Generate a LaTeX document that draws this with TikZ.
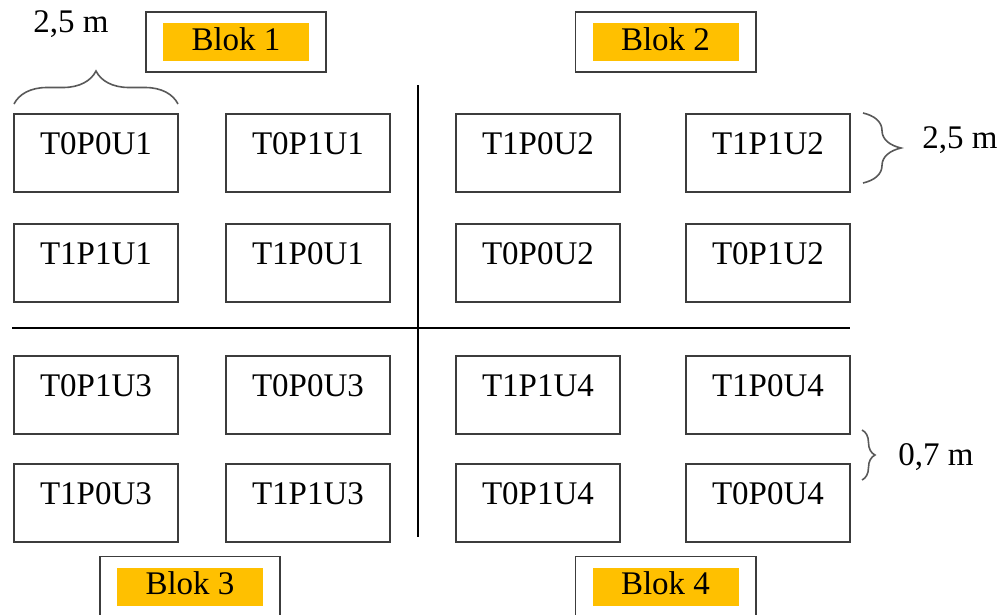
\documentclass[tikz,border=0pt]{standalone}
\usepackage{fontspec}
\setmainfont{Liberation Serif}
\usepackage{tikz}
\usetikzlibrary{positioning,fit,decorations.pathreplacing}
\definecolor{blokorange}{HTML}{FFC000}
\definecolor{framegray}{HTML}{3C3C3C}

\begin{document}
\begin{tikzpicture}[x=1pt,y=-1pt,font=\fontsize{33}{40}\selectfont]
  \tikzstyle{plot}=[draw=framegray,line width=1.6pt,minimum width=164pt,minimum height=78pt,
                    inner sep=0pt,outer sep=0pt,text height=22pt,text depth=20pt]
  \tikzstyle{bloklabel}=[fill=blokorange,minimum width=146pt,minimum height=38pt,inner sep=0pt,
                    text height=22pt,text depth=6pt]
  \tikzstyle{blokframe}=[draw=framegray,line width=1.6pt,inner xsep=17pt,inner ysep=11pt]
  \tikzstyle{divider}=[draw=black,line width=1.4pt]
  \tikzstyle{measure}=[draw=framegray!85,line width=1.6pt,decorate]

  \clip (0,0) rectangle (1005,614);

  % plots, row by row
  \node[plot] (u1a)                    at (96,153) {T0P0U1};
  \node[plot] (u1b) [right=48pt of u1a]           {T0P1U1};
  \node[plot] (u2a) [right=66pt of u1b]           {T1P0U2};
  \node[plot] (u2b) [right=66pt of u2a]           {T1P1U2};

  \node[plot] (u1c) [below=32pt of u1a]           {T1P1U1};
  \node[plot] (u1d) [right=48pt of u1c]           {T1P0U1};
  \node[plot] (u2c) [right=66pt of u1d]           {T0P0U2};
  \node[plot] (u2d) [right=66pt of u2c]           {T0P1U2};

  \node[plot] (u3a) [below=54pt of u1c]           {T0P1U3};
  \node[plot] (u3b) [right=48pt of u3a]           {T0P0U3};
  \node[plot] (u4a) [right=66pt of u3b]           {T1P1U4};
  \node[plot] (u4b) [right=66pt of u4a]           {T1P0U4};

  \node[plot] (u3c) [below=30pt of u3a]           {T1P0U3};
  \node[plot] (u3d) [right=48pt of u3c]           {T1P1U3};
  \node[plot] (u4c) [right=66pt of u3d]           {T0P1U4};
  \node[plot] (u4d) [right=66pt of u4c]           {T0P0U4};

  % block labels
  \node[bloklabel] (blok1) at (236,42)    {Blok 1};
  \node[bloklabel] (blok2) at (665.5,42)  {Blok 2};
  \node[bloklabel] (blok3) at (190,586.5) {Blok 3};
  \node[bloklabel] (blok4) at (665.5,586.5) {Blok 4};
  \node[blokframe,fit=(blok1)] (f1) {};
  \node[blokframe,fit=(blok2)] (f2) {};
  \node[blokframe,fit=(blok3)] (f3) {};
  \node[blokframe,fit=(blok4)] (f4) {};

  % dividers
  \coordinate (hl) at (12,328);
  \coordinate (hr) at (850,328);
  \coordinate (vt) at (418,85);
  \coordinate (vb) at (418,537);
  \path[divider] (hl) -- (hr);
  \path[divider] (vt) -- (vb);

  % dimensions
  \coordinate (w1) at (14,104);
  \coordinate (w2) at (178,104);
  \coordinate (l1) at (863,113);
  \coordinate (l2) at (863,183);
  \coordinate (g1) at (862,430);
  \coordinate (g2) at (862,480);
  \path[measure,decoration={brace,amplitude=33pt}] (w1) -- (w2);
  \path[measure,decoration={brace,amplitude=38pt}] (l1) -- (l2);
  \path[measure,decoration={brace,amplitude=13pt}] (g1) -- (g2);
  \node (wlab) at (71,24)   {2,5 m};
  \node (llab) at (960,140) {2,5 m};
  \node (glab) at (936,457) {0,7 m};
\end{tikzpicture}
\end{document}
